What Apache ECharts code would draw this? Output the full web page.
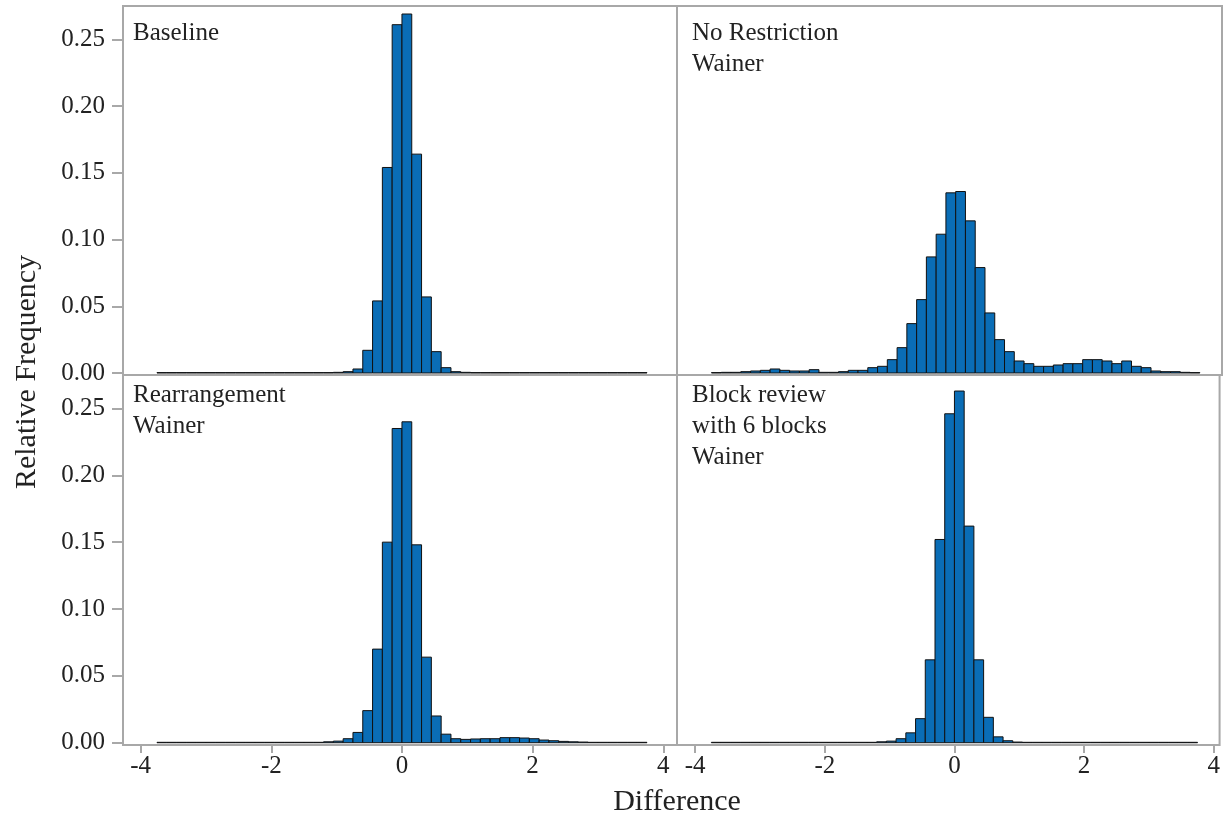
<!DOCTYPE html>
<html>
<head>
<meta charset="utf-8">
<script src="https://cdn.jsdelivr.net/npm/echarts@6/dist/echarts.min.js"></script>
<style>
  html, body { margin: 0; padding: 0; background: #fff; }
  #chart { width: 1223px; height: 819px; }
</style>
</head>
<body>
<div id="chart"></div>
<script>
// histogram bins: 50 bins of width 0.15 from -3.75 to 3.75
const binStart = -3.75
const binWidth = 0.15
const xTicks = [-4, -2, 0, 2, 4]
const yTicks = [0, 0.05, 0.10, 0.15, 0.20, 0.25]

const baseline = [
  0.0003, 0.0003, 0.0003, 0.0003, 0.0003, 0.0003, 0.0003, 0.0003, 0.0003, 0.0003,
  0.0003, 0.0003, 0.0003, 0.0003, 0.0003, 0.0003, 0.0003, 0.0003, 0.0005, 0.001,
  0.003, 0.017, 0.054, 0.154, 0.261, 0.269, 0.164, 0.057, 0.016, 0.004,
  0.001, 0.0005, 0.0003, 0.0003, 0.0003, 0.0003, 0.0003, 0.0003, 0.0003, 0.0003,
  0.0003, 0.0003, 0.0003, 0.0003, 0.0003, 0.0003, 0.0003, 0.0003, 0.0003, 0.0003
]
const noRestriction = [
  0.0003, 0.0005, 0.0005, 0.001, 0.0015, 0.002, 0.003, 0.002, 0.0015, 0.0015,
  0.0025, 0.0005, 0.0005, 0.001, 0.002, 0.002, 0.004, 0.005, 0.010, 0.019,
  0.037, 0.055, 0.087, 0.104, 0.135, 0.136, 0.114, 0.079, 0.045, 0.025,
  0.016, 0.009, 0.007, 0.005, 0.005, 0.006, 0.007, 0.007, 0.010, 0.010,
  0.009, 0.007, 0.009, 0.005, 0.004, 0.0015, 0.001, 0.001, 0.0005, 0.0003
]
const rearrangement = [
  0.0003, 0.0003, 0.0003, 0.0003, 0.0003, 0.0003, 0.0003, 0.0003, 0.0003, 0.0003,
  0.0003, 0.0003, 0.0003, 0.0003, 0.0003, 0.0003, 0.0003, 0.0007, 0.0012, 0.003,
  0.0077, 0.024, 0.070, 0.150, 0.235, 0.240, 0.148, 0.064, 0.020, 0.0064,
  0.003, 0.0025, 0.0028, 0.003, 0.003, 0.0038, 0.0038, 0.0035, 0.003, 0.002,
  0.0015, 0.001, 0.0007, 0.0005, 0.0003, 0.0003, 0.0003, 0.0003, 0.0003, 0.0003
]
const blockReview = [
  0.0003, 0.0003, 0.0003, 0.0003, 0.0003, 0.0003, 0.0003, 0.0003, 0.0003, 0.0003,
  0.0003, 0.0003, 0.0003, 0.0003, 0.0003, 0.0003, 0.0003, 0.0007, 0.0012, 0.003,
  0.0074, 0.018, 0.062, 0.152, 0.246, 0.263, 0.162, 0.062, 0.019, 0.0044,
  0.0015, 0.0005, 0.0003, 0.0003, 0.0003, 0.0003, 0.0003, 0.0003, 0.0003, 0.0003,
  0.0003, 0.0003, 0.0003, 0.0003, 0.0003, 0.0003, 0.0003, 0.0003, 0.0003, 0.0003
]

const panelLabels = ['Baseline', 'No Restriction\nWainer', 'Rearrangement\nWainer', 'Block review\nwith 6 blocks\nWainer']
const panelData = [baseline, noRestriction, rearrangement, blockReview]

const serif = '"Liberation Serif", "Times New Roman", serif'
const frameColor = '#a8a8a8'
const barColor = '#0a6db6'

function toBins(values) {
  return values.map((v, i) => [binStart + i * binWidth, binStart + (i + 1) * binWidth, v])
}

function renderBar(params, api) {
  const p0 = api.coord([api.value(0), api.value(2)])
  const p1 = api.coord([api.value(1), 0])
  return {
    type: 'rect',
    shape: {x: p0[0], y: p0[1], width: p1[0] - p0[0], height: p1[1] - p0[1]},
    style: {fill: barColor, stroke: '#111', lineWidth: 1}
  }
}

const grids = [
  {left: 123, top: 6, width: 554, height: 369},
  {left: 677, top: 6, width: 545, height: 369},
  {left: 123, top: 375, width: 554, height: 370},
  {left: 677, top: 375, width: 545, height: 370}
].map(g => Object.assign(g, {show: true, borderColor: frameColor, borderWidth: 2}))

const xRanges = [[-4.27, 4.21], [-4.28, 4.09], [-4.27, 4.21], [-4.28, 4.09]]
const yRanges = [[-0.0015, 0.275], [-0.0015, 0.275], [-0.0017, 0.275], [-0.0017, 0.275]]

const xAxes = xRanges.map((r, i) => ({
  type: 'value',
  gridIndex: i,
  min: r[0],
  max: r[1],
  position: 'bottom',
  axisLine: {show: false, onZero: false},
  splitLine: {show: false},
  axisTick: {show: i >= 2, length: 8, customValues: xTicks, lineStyle: {color: frameColor, width: 2}},
  axisLabel: {show: i >= 2, customValues: xTicks, margin: 9, color: '#222', fontFamily: serif, fontSize: 25}
}))

const yAxes = yRanges.map((r, i) => ({
  type: 'value',
  gridIndex: i,
  min: r[0],
  max: r[1],
  position: 'left',
  axisLine: {show: false, onZero: false},
  splitLine: {show: false},
  axisTick: {show: i % 2 === 0, length: 11, customValues: yTicks, lineStyle: {color: frameColor, width: 2}},
  axisLabel: {
    show: i % 2 === 0, customValues: yTicks, margin: 18, color: '#222', fontFamily: serif, fontSize: 25,
    formatter: v => v.toFixed(2)
  }
}))

const series = panelData.map((d, i) => ({
  type: 'custom',
  xAxisIndex: i,
  yAxisIndex: i,
  renderItem: renderBar,
  encode: {x: [0, 1], y: 2},
  data: toBins(d),
  silent: true
}))

const labelPos = [[133, 18], [692, 18], [133, 380], [692, 380]]
const graphic = panelLabels.map((t, i) => ({
  type: 'text',
  left: labelPos[i][0],
  top: labelPos[i][1],
  style: {text: t, font: '25px ' + serif, fill: '#222', lineHeight: 31}
}))
graphic.push({
  type: 'text', x: 677, y: 802,
  style: {text: 'Difference', font: '30px ' + serif, fill: '#222', align: 'center', verticalAlign: 'middle'}
})
graphic.push({
  type: 'text', x: 27, y: 372, rotation: Math.PI / 2,
  style: {text: 'Relative Frequency', font: '30px ' + serif, fill: '#222', align: 'center', verticalAlign: 'middle'}
})

let myChart = echarts.init(document.getElementById('chart'))
myChart.setOption({
  animation: false,
  backgroundColor: '#fff',
  grid: grids,
  xAxis: xAxes,
  yAxis: yAxes,
  series: series,
  graphic: graphic
})
</script>
</body>
</html>
